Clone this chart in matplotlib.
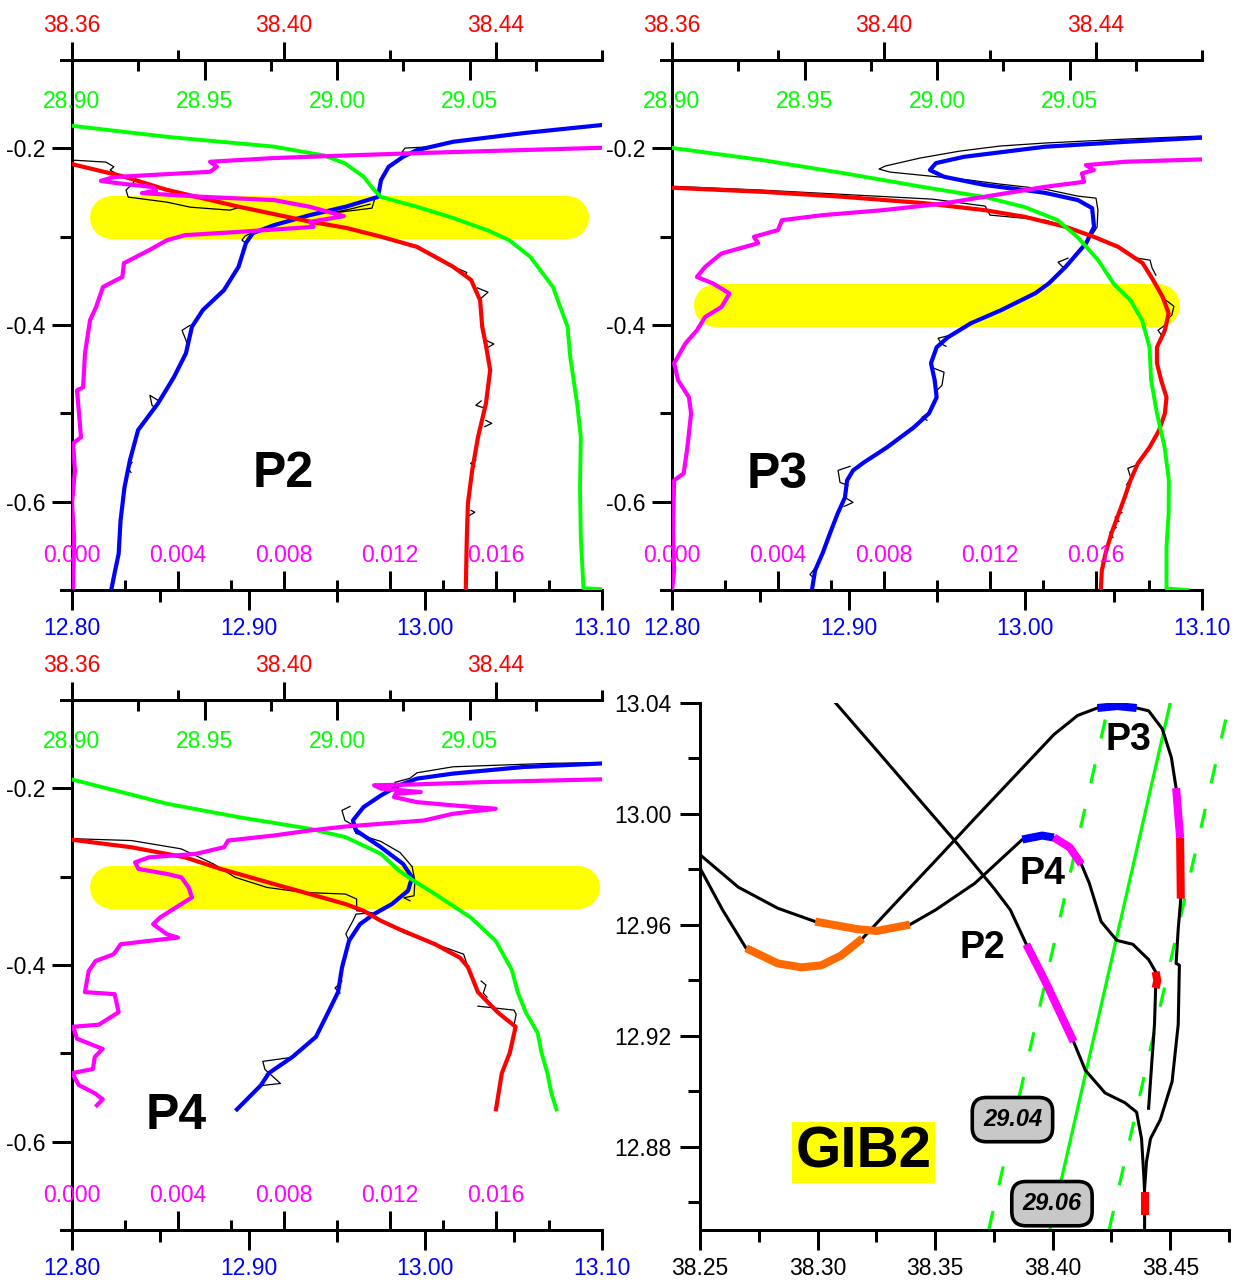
import matplotlib
matplotlib.use("Agg")
import matplotlib.pyplot as plt
from matplotlib.ticker import FixedLocator, FormatStrFormatter

plt.rcParams['font.family'] = ['Liberation Sans', 'DejaVu Sans']
plt.rcParams['axes.unicode_minus'] = False
plt.rcParams['lines.scale_dashes'] = False

W, H = 1235, 1282
PX = 0.72  # points per pixel at dpi 100

BLUE = '#0000ff'; RED = '#ff0000'; GREEN = '#00ff00'; MAGENTA = '#ff00ff'
YELLOW = '#ffff00'; ORANGE = '#ff6a00'

# ---------------- axis scales ----------------
T_LIM = (12.80, 13.10)
S_LIM = (38.36, 38.46)
SIG_LIM = (28.90, 29.10)
TURB_LIM = (0.0, 0.02)
Z_LIM = (-0.70, -0.10)

T_MAJOR = [12.80, 12.90, 13.00, 13.10]; T_MINOR = [12.85, 12.95, 13.05]
S_MAJOR = [38.36, 38.40, 38.44]; S_MINOR = [38.38, 38.42, 38.46]
SIG_MAJOR = [28.90, 28.95, 29.00, 29.05]; SIG_MINOR = [28.925, 28.975, 29.025, 29.075]
TURB_MAJOR = [0.000, 0.004, 0.008, 0.012, 0.016]; TURB_MINOR = [0.002, 0.006, 0.010, 0.014, 0.018]
Z_MAJOR = [-0.2, -0.4, -0.6]; Z_MINOR = [-0.3, -0.5]

TS_S_LIM = (38.25, 38.475)
TS_T_LIM = (12.85, 13.04)
TS_S_MAJOR = [38.25, 38.30, 38.35, 38.40, 38.45]
TS_S_MINOR = [38.275, 38.325, 38.375, 38.425, 38.475]
TS_T_MAJOR = [12.88, 12.92, 12.96, 13.00, 13.04]
TS_T_MINOR = [12.86, 12.90, 12.94, 12.98, 13.02]

# ---------------- P2 profile (value, depth) ----------------
p2_temp = [(13.0994, -0.1737), (13.0558, -0.1827), (13.0157, -0.1926), (12.9953, -0.2020),
           (12.9874, -0.2096), (12.9792, -0.2210), (12.9749, -0.2360), (12.9732, -0.2550),
           (12.9551, -0.2660), (12.9347, -0.2756), (12.9143, -0.2870), (12.9024, -0.2960),
           (12.8985, -0.3070), (12.8943, -0.3340), (12.8860, -0.3606), (12.8741, -0.3830),
           (12.8679, -0.4020), (12.8645, -0.4320), (12.8577, -0.4590), (12.8487, -0.4887),
           (12.8374, -0.5190), (12.8328, -0.5530), (12.8297, -0.5840), (12.8275, -0.6210),
           (12.8264, -0.6590), (12.8241, -0.6810), (12.8224, -0.6980)]
p2_sal = [(38.3601, -0.2180), (38.3698, -0.2320), (38.3779, -0.2470), (38.3914, -0.2660),
          (38.4049, -0.2830), (38.4117, -0.2900), (38.4183, -0.3000), (38.4251, -0.3116),
          (38.4319, -0.3340), (38.4353, -0.3490), (38.4370, -0.3720), (38.4374, -0.4020),
          (38.4381, -0.4230), (38.4389, -0.4510), (38.4381, -0.4890), (38.4366, -0.5270),
          (38.4355, -0.5650), (38.4347, -0.6020), (38.4345, -0.6400), (38.4343, -0.6980)]
p2_sig = [(28.9000, -0.1745), (28.9360, -0.1870), (28.9760, -0.1980), (28.9950, -0.2080),
          (29.0030, -0.2170), (29.0100, -0.2320), (29.0140, -0.2470), (29.0166, -0.2550),
          (29.0300, -0.2660), (29.0440, -0.2790), (29.0570, -0.2930), (29.0650, -0.3040),
          (29.0730, -0.3230), (29.0815, -0.3570), (29.0870, -0.4020), (29.0880, -0.4360),
          (29.0906, -0.4890), (29.0920, -0.5270), (29.0917, -0.5840), (29.0920, -0.6400),
          (29.0930, -0.6980), (29.1000, -0.6990)]
p2_turb = [(0.01996, -0.1994), (0.01302, -0.2054), (0.00966, -0.2088), (0.00762, -0.2110),
           (0.00521, -0.2152), (0.00547, -0.2209), (0.00521, -0.2266), (0.00358, -0.2292),
           (0.00157, -0.2326), (0.00109, -0.2368), (0.00170, -0.2394), (0.00306, -0.2439),
           (0.00317, -0.2481), (0.00264, -0.2507), (0.00494, -0.2549), (0.00762, -0.2586),
           (0.00898, -0.2662), (0.01026, -0.2768), (0.00898, -0.2832), (0.00912, -0.2889),
           (0.00629, -0.2946), (0.00426, -0.2983), (0.00358, -0.3040), (0.00291, -0.3153),
           (0.00196, -0.3300), (0.00190, -0.3456), (0.00117, -0.3569), (0.00091, -0.3796),
           (0.00068, -0.3946), (0.00049, -0.4320), (0.00042, -0.4705), (0.00019, -0.4740),
           (0.00034, -0.5270), (0.00004, -0.5340), (0.00011, -0.5646), (0.00000, -0.6020),
           (0.00008, -0.6400), (0.00004, -0.6970)]
p2_raw_temp = [
    [(12.9998, -0.1986), (12.9885, -0.1997), (12.9868, -0.2042), (12.9924, -0.2054)],
    [(12.9715, -0.2564), (12.9698, -0.2677), (12.9517, -0.2722), (12.9460, -0.2734),
     (12.9574, -0.2688), (12.9687, -0.2632)],
    [(12.9036, -0.2938), (12.8979, -0.2994), (12.8962, -0.3040), (12.8985, -0.3074)],
    [(12.8668, -0.4003), (12.8623, -0.4060), (12.8645, -0.4173), (12.8657, -0.4252)],
    [(12.8487, -0.4853), (12.8441, -0.4796), (12.8453, -0.4909), (12.8475, -0.4943)],
    [(12.8340, -0.5555), (12.8317, -0.5623), (12.8334, -0.5669)],
]
p2_raw_sal = [
    [(38.3600, -0.2133), (38.3664, -0.2156), (38.3679, -0.2209), (38.3672, -0.2246),
     (38.3698, -0.2337), (38.3719, -0.2360), (38.3715, -0.2394), (38.3702, -0.2473),
     (38.3706, -0.2552), (38.3779, -0.2609), (38.3823, -0.2666), (38.3898, -0.2700),
     (38.3917, -0.2666)],
    [(38.4315, -0.3330), (38.4345, -0.3405), (38.4340, -0.3450)],
    [(38.4365, -0.3580), (38.4385, -0.3629), (38.4372, -0.3697)],
    [(38.4381, -0.4173), (38.4396, -0.4215), (38.4385, -0.4252)],
    [(38.4372, -0.4860), (38.4362, -0.4909), (38.4380, -0.4943)],
    [(38.4381, -0.5080), (38.4392, -0.5113), (38.4379, -0.5150)],
    [(38.4362, -0.5530), (38.4352, -0.5567), (38.4360, -0.5600)],
    [(38.4353, -0.6099), (38.4360, -0.6120), (38.4350, -0.6156)],
]
p2_band = (12.8221, 13.0802, -0.2773)   # temperature span, depth centre

# ---------------- P3 profile ----------------
p3_temp = [(13.0995, -0.1880), (13.0570, -0.1926), (13.0111, -0.1982), (12.9653, -0.2096),
           (12.9494, -0.2167), (12.9460, -0.2246), (12.9540, -0.2322), (12.9772, -0.2416),
           (12.9998, -0.2473), (13.0111, -0.2504), (13.0298, -0.2586), (13.0378, -0.2677),
           (13.0389, -0.2889), (13.0344, -0.3074), (13.0228, -0.3342), (13.0134, -0.3527),
           (13.0057, -0.3640), (12.9862, -0.3833), (12.9692, -0.3980), (12.9562, -0.4139),
           (12.9498, -0.4252), (12.9466, -0.4433), (12.9487, -0.4626), (12.9498, -0.4819),
           (12.9455, -0.5000), (12.9369, -0.5159), (12.9217, -0.5385), (12.9087, -0.5555),
           (12.9025, -0.5646), (12.8991, -0.5759), (12.8979, -0.5952), (12.8938, -0.6133),
           (12.8894, -0.6360), (12.8852, -0.6586), (12.8810, -0.6779), (12.8792, -0.7000)]
p3_sal = [(38.3602, -0.2447), (38.3770, -0.2492), (38.3923, -0.2549), (38.4075, -0.2620),
          (38.4190, -0.2700), (38.4266, -0.2776), (38.4343, -0.2889), (38.4396, -0.3002),
          (38.4442, -0.3116), (38.4488, -0.3300), (38.4508, -0.3493), (38.4526, -0.3686),
          (38.4537, -0.3867), (38.4530, -0.4060), (38.4515, -0.4252), (38.4515, -0.4433),
          (38.4523, -0.4626), (38.4533, -0.4819), (38.4530, -0.5000), (38.4519, -0.5193),
          (38.4501, -0.5385), (38.4479, -0.5567), (38.4465, -0.5759), (38.4454, -0.5952),
          (38.4443, -0.6133), (38.4429, -0.6360), (38.4418, -0.6586), (38.4411, -0.6779),
          (38.4409, -0.7000)]
p3_sig = [(28.9004, -0.1997), (28.9340, -0.2133), (28.9645, -0.2280), (28.9950, -0.2439),
          (29.0181, -0.2552), (29.0332, -0.2666), (29.0455, -0.2813), (29.0531, -0.3006),
          (29.0608, -0.3266), (29.0668, -0.3538), (29.0730, -0.3720), (29.0774, -0.3946),
          (29.0802, -0.4252), (29.0808, -0.4626), (29.0830, -0.5000), (29.0859, -0.5385),
          (29.0875, -0.5759), (29.0874, -0.6133), (29.0866, -0.6518), (29.0866, -0.6983),
          (29.0945, -0.7000)]
p3_turb = [(0.02000, -0.2125), (0.01710, -0.2152), (0.01562, -0.2190), (0.01592, -0.2246),
           (0.01547, -0.2284), (0.01555, -0.2379), (0.01408, -0.2436), (0.01257, -0.2510),
           (0.01026, -0.2624), (0.00796, -0.2700), (0.00570, -0.2756), (0.00415, -0.2813),
           (0.00400, -0.2926), (0.00309, -0.3002), (0.00325, -0.3074), (0.00187, -0.3190),
           (0.00125, -0.3342), (0.00094, -0.3456), (0.00155, -0.3530), (0.00217, -0.3644),
           (0.00187, -0.3796), (0.00125, -0.3909), (0.00094, -0.4060), (0.00051, -0.4207),
           (0.00008, -0.4433), (0.00023, -0.4626), (0.00064, -0.4819), (0.00072, -0.5000),
           (0.00058, -0.5385), (0.00044, -0.5680), (0.00008, -0.5759), (0.00004, -0.6326),
           (0.00008, -0.6779), (0.00000, -0.7000)]
p3_raw_temp = [
    [(13.0995, -0.1861), (13.0570, -0.1895), (13.0111, -0.1940), (12.9857, -0.1974),
     (12.9630, -0.2031), (12.9404, -0.2110), (12.9206, -0.2201), (12.9172, -0.2235),
     (12.9234, -0.2269), (12.9460, -0.2314), (12.9687, -0.2360), (12.9857, -0.2405),
     (13.0111, -0.2462), (13.0298, -0.2541), (13.0400, -0.2564), (13.0411, -0.2700),
     (13.0406, -0.2892), (13.0377, -0.2983)],
    [(13.0241, -0.3244), (13.0185, -0.3289), (13.0207, -0.3334), (13.0230, -0.3357)],
    [(12.9574, -0.4116), (12.9506, -0.4150), (12.9528, -0.4218), (12.9551, -0.4241)],
    [(12.9483, -0.4490), (12.9540, -0.4535), (12.9528, -0.4683), (12.9500, -0.4739)],
    [(12.9455, -0.4989), (12.9415, -0.5045), (12.9443, -0.5079)],
    [(12.9008, -0.5600), (12.8940, -0.5646), (12.8951, -0.5782), (12.8996, -0.5816)],
    [(12.8979, -0.5952), (12.9025, -0.6008), (12.8974, -0.6054)],
    [(12.8809, -0.6756), (12.8781, -0.6824), (12.8804, -0.6870)],
]
p3_raw_sal = [
    [(38.3602, -0.2430), (38.3770, -0.2473), (38.4091, -0.2575), (38.4191, -0.2654),
     (38.4200, -0.2756), (38.4304, -0.2813), (38.4342, -0.2881)],
    [(38.4479, -0.3244), (38.4502, -0.3266), (38.4506, -0.3357), (38.4513, -0.3436)],
    [(38.4532, -0.3720), (38.4547, -0.3788), (38.4543, -0.3890), (38.4536, -0.3924)],
    [(38.4530, -0.4003), (38.4517, -0.4060), (38.4525, -0.4127)],
    [(38.4475, -0.5589), (38.4460, -0.5623), (38.4466, -0.5737), (38.4458, -0.5805)],
    [(38.4449, -0.6122), (38.4436, -0.6178), (38.4443, -0.6224)],
    [(38.4438, -0.6292), (38.4426, -0.6348), (38.4432, -0.6405)],
]
p3_band = (12.8243, 13.0751, -0.3776)

# ---------------- P4 profile ----------------
p4_temp = [(13.0994, -0.1719), (13.0558, -0.1758), (13.0157, -0.1833), (12.9953, -0.1890),
           (12.9851, -0.1966), (12.9749, -0.2080), (12.9650, -0.2213), (12.9590, -0.2364),
           (12.9608, -0.2477), (12.9749, -0.2667), (12.9874, -0.2856), (12.9925, -0.3008),
           (12.9902, -0.3159), (12.9811, -0.3310), (12.9709, -0.3424), (12.9630, -0.3538),
           (12.9568, -0.3727), (12.9528, -0.4031), (12.9506, -0.4307), (12.9449, -0.4540),
           (12.9381, -0.4813), (12.9248, -0.5041), (12.9114, -0.5224), (12.9070, -0.5360),
           (12.8934, -0.5634)]
p4_sal = [(38.3601, -0.2583), (38.3712, -0.2667), (38.3813, -0.2781), (38.3881, -0.2913),
          (38.3914, -0.2969), (38.3981, -0.3083), (38.4049, -0.3197), (38.4116, -0.3310),
          (38.4150, -0.3386), (38.4183, -0.3500), (38.4217, -0.3594), (38.4285, -0.3765),
          (38.4332, -0.3917), (38.4347, -0.4023), (38.4366, -0.4307), (38.4404, -0.4540),
          (38.4437, -0.4699), (38.4426, -0.4995), (38.4411, -0.5224), (38.4400, -0.5634)]
p4_sig = [(28.9002, -0.1901), (28.9358, -0.2174), (28.9629, -0.2326), (28.9898, -0.2458),
          (29.0033, -0.2553), (29.0166, -0.2742), (29.0234, -0.2932), (29.0289, -0.3045),
          (29.0370, -0.3197), (29.0505, -0.3463), (29.0599, -0.3727), (29.0660, -0.4057),
          (29.0682, -0.4307), (29.0712, -0.4534), (29.0757, -0.4767), (29.0772, -0.4995),
          (29.0794, -0.5224), (29.0809, -0.5452), (29.0828, -0.5634)]
p4_turb = [(0.01996, -0.1898), (0.01572, -0.1928), (0.01302, -0.1955), (0.01140, -0.1966),
           (0.01166, -0.2003), (0.01316, -0.2042), (0.01222, -0.2060), (0.01215, -0.2099),
           (0.01302, -0.2156), (0.01438, -0.2193), (0.01599, -0.2231), (0.01438, -0.2288),
           (0.01328, -0.2364), (0.01033, -0.2432), (0.00898, -0.2477), (0.00762, -0.2534),
           (0.00589, -0.2591), (0.00574, -0.2667), (0.00467, -0.2742), (0.00291, -0.2781),
           (0.00238, -0.2838), (0.00251, -0.2913), (0.00358, -0.2969), (0.00413, -0.3008),
           (0.00440, -0.3122), (0.00453, -0.3235), (0.00413, -0.3310), (0.00372, -0.3386),
           (0.00332, -0.3463), (0.00306, -0.3538), (0.00358, -0.3651), (0.00400, -0.3690),
           (0.00291, -0.3727), (0.00184, -0.3765), (0.00157, -0.3878), (0.00089, -0.3955),
           (0.00063, -0.4068), (0.00057, -0.4170), (0.00049, -0.4307), (0.00161, -0.4330),
           (0.00176, -0.4534), (0.00101, -0.4676), (0.00004, -0.4699), (0.00019, -0.4835),
           (0.00116, -0.4950), (0.00086, -0.5041), (0.00079, -0.5178), (0.00000, -0.5224),
           (0.00026, -0.5360), (0.00086, -0.5452), (0.00116, -0.5520), (0.00094, -0.5589)]
p4_raw_temp = [
    [(13.0994, -0.1710), (13.0723, -0.1716), (13.0157, -0.1756), (12.9953, -0.1824),
     (12.9913, -0.1886), (12.9828, -0.1932)],
    [(12.9574, -0.2205), (12.9528, -0.2250), (12.9545, -0.2364), (12.9585, -0.2409),
     (12.9608, -0.2511), (12.9749, -0.2602), (12.9857, -0.2727), (12.9925, -0.2886)],
    [(12.9925, -0.2886), (12.9941, -0.3045), (12.9936, -0.3216), (12.9879, -0.3239),
     (12.9913, -0.3273)],
    [(12.9698, -0.3409), (12.9608, -0.3424), (12.9590, -0.3500), (12.9550, -0.3648),
     (12.9568, -0.3727)],
    [(12.9528, -0.4182), (12.9489, -0.4261), (12.9517, -0.4318)],
    [(12.9245, -0.5045), (12.9080, -0.5091), (12.9092, -0.5182), (12.9180, -0.5341),
     (12.9075, -0.5364)],
]
p4_raw_sal = [
    [(38.3601, -0.2570), (38.3712, -0.2591), (38.3806, -0.2685), (38.3867, -0.2856),
     (38.3908, -0.3008), (38.3968, -0.3122), (38.4036, -0.3178), (38.4116, -0.3197),
     (38.4137, -0.3253), (38.4137, -0.3386), (38.4164, -0.3406)],
    [(38.4225, -0.3633), (38.4251, -0.3690), (38.4285, -0.3761), (38.4339, -0.3878),
     (38.4345, -0.3989)],
    [(38.4372, -0.4182), (38.4381, -0.4227), (38.4376, -0.4318), (38.4383, -0.4364)],
    [(38.4366, -0.4466), (38.4434, -0.4511), (38.4438, -0.4557), (38.4434, -0.4682)],
]
p4_band = (12.8218, 13.0864, -0.3122)

# ---------------- GIB2 T-S diagram (salinity, temperature) ----------------
ts_p2 = [(38.3077, 13.0400), (38.3250, 13.0231), (38.3418, 13.0066), (38.3586, 12.9901),
         (38.3753, 12.9729), (38.3820, 12.9654), (38.3888, 12.9530), (38.3971, 12.9392),
         (38.4089, 12.9179), (38.4139, 12.9076), (38.4223, 12.8994), (38.4307, 12.8959),
         (38.4357, 12.8925), (38.4378, 12.8829), (38.4388, 12.8691), (38.4391, 12.8636),
         (38.4391, 12.8554), (38.4391, 12.8499)]
ts_p2_marks = {MAGENTA: (6, 9), RED: (15, 17)}
ts_p4 = [(38.2500, 12.9853), (38.2663, 12.9736), (38.2831, 12.9660), (38.2990, 12.9612),
         (38.3166, 12.9585), (38.3250, 12.9578), (38.3393, 12.9601), (38.3502, 12.9654),
         (38.3669, 12.9750), (38.3871, 12.9908), (38.3955, 12.9922), (38.4005, 12.9915),
         (38.4072, 12.9880), (38.4122, 12.9819), (38.4156, 12.9750), (38.4206, 12.9612),
         (38.4273, 12.9544), (38.4341, 12.9530), (38.4408, 12.9475), (38.4438, 12.9431),
         (38.4445, 12.9399), (38.4438, 12.9372), (38.4433, 12.9241), (38.4416, 12.9035),
         (38.4408, 12.8939)]
ts_p4_marks = {ORANGE: (3, 7), BLUE: (9, 12), MAGENTA: (11, 14), RED: (19, 22)}
ts_p3 = [(38.2500, 12.9805), (38.2596, 12.9654), (38.2696, 12.9516), (38.2831, 12.9461),
         (38.2931, 12.9447), (38.3015, 12.9454), (38.3099, 12.9489), (38.3191, 12.9551),
         (38.3334, 12.9681), (38.3502, 12.9832), (38.3669, 12.9984), (38.3837, 13.0135),
         (38.4005, 13.0286), (38.4106, 13.0355), (38.4190, 13.0382), (38.4274, 13.0389),
         (38.4357, 13.0382), (38.4408, 13.0372), (38.4466, 13.0307), (38.4505, 13.0203),
         (38.4525, 13.0093), (38.4542, 12.9915), (38.4545, 12.9695), (38.4534, 12.9585),
         (38.4525, 12.9461), (38.4539, 12.9455), (38.4534, 12.9241), (38.4508, 12.9035),
         (38.4458, 12.8898), (38.4416, 12.8829), (38.4399, 12.8746), (38.4391, 12.8650)]
ts_p3_marks = {ORANGE: (2, 8), BLUE: (14, 17), MAGENTA: (20, 22), RED: (21, 23)}

iso_values = ['29.04', '29.06', '29.08']
iso_S_bottom = [38.3728, 38.3988, 38.4240]
iso_S_top = [38.4240, 38.4500, 38.4752]
iso_T_ends = [12.85, 13.04]
iso_styles = ['dashed', 'solid', 'dashed']
iso_label_pos = [(38.3829, 12.8898), (38.3997, 12.8595)]

# ---------------- figure ----------------
fig = plt.figure(figsize=(W / 100, H / 100), dpi=100)

TICK_W = 3 * PX
MAJ_L = 20 * PX
MIN_L = 12 * PX
LSIZE = 16.5


def rect(l, t, r, b):
    return [l / W, 1 - b / H, (r - l) / W, (b - t) / H]


def unzip(pairs):
    return [p[0] for p in pairs], [p[1] for p in pairs]


def set_xticks(ax, major, minor, fmt):
    ax.xaxis.set_major_locator(FixedLocator(major))
    ax.xaxis.set_minor_locator(FixedLocator(minor))
    ax.xaxis.set_major_formatter(FormatStrFormatter(fmt))


def profile(r, temp, sal, sig, turb, raw_t, raw_s, band, name, name_xy):
    axT = fig.add_axes(r)
    axT.set_xlim(*T_LIM)
    axT.set_ylim(*Z_LIM)
    axS = axT.twiny(); axS.set_xlim(*S_LIM)
    axG = axT.twiny(); axG.set_xlim(*SIG_LIM)
    axM = axT.twiny(); axM.set_xlim(*TURB_LIM)
    axM.xaxis.tick_bottom()

    for a in (axT, axS, axG, axM):
        for sp in a.spines.values():
            sp.set_visible(False)
            sp.set_linewidth(TICK_W)
    axT.spines['left'].set_visible(True)
    axT.spines['bottom'].set_visible(True)
    axS.spines['top'].set_visible(True)
    axT.spines['bottom'].set_bounds(T_LIM[0] - 0.006, T_LIM[1])
    axS.spines['top'].set_bounds(S_LIM[0] - 0.002, S_LIM[1])

    # temperature (bottom, outward)
    set_xticks(axT, T_MAJOR, T_MINOR, '%.2f')
    axT.tick_params(axis='x', which='both', direction='out', width=TICK_W,
                    labelsize=LSIZE, labelcolor=BLUE, pad=5, bottom=True, top=False)
    axT.tick_params(axis='x', which='major', length=MAJ_L)
    axT.tick_params(axis='x', which='minor', length=MIN_L)
    # depth
    axT.yaxis.set_major_locator(FixedLocator(Z_MAJOR))
    axT.yaxis.set_minor_locator(FixedLocator(Z_MINOR))
    axT.yaxis.set_major_formatter(FormatStrFormatter('%.1f'))
    axT.tick_params(axis='y', which='both', direction='out', width=TICK_W,
                    labelsize=LSIZE, labelcolor='black', pad=5, left=True, right=False)
    axT.tick_params(axis='y', which='major', length=MAJ_L)
    axT.tick_params(axis='y', which='minor', length=MIN_L)
    # salinity (top, outward)
    set_xticks(axS, S_MAJOR, S_MINOR, '%.2f')
    axS.tick_params(axis='x', which='both', direction='out', width=TICK_W,
                    labelsize=LSIZE, labelcolor=RED, pad=3.5)
    axS.tick_params(axis='x', which='major', length=18 * PX)
    axS.tick_params(axis='x', which='minor', length=10 * PX)
    # density (top, inward, labels inside)
    set_xticks(axG, SIG_MAJOR, SIG_MINOR, '%.2f')
    axG.tick_params(axis='x', which='both', direction='in', width=TICK_W,
                    labelsize=LSIZE, labelcolor=GREEN, pad=-38)
    axG.tick_params(axis='x', which='major', length=MAJ_L)
    axG.tick_params(axis='x', which='minor', length=11 * PX)
    # turbidity (bottom, inward, labels inside)
    set_xticks(axM, TURB_MAJOR, TURB_MINOR, '%.3f')
    axM.tick_params(axis='x', which='both', direction='in', width=TICK_W,
                    labelsize=LSIZE, labelcolor=MAGENTA, pad=-33,
                    bottom=True, top=False, labelbottom=True, labeltop=False)
    axM.tick_params(axis='x', which='major', length=19 * PX)
    axM.tick_params(axis='x', which='minor', length=10 * PX)

    # highlighted layer
    axT.plot([band[0], band[1]], [band[2], band[2]], color=YELLOW, lw=43 * PX,
             solid_capstyle='round', zorder=1)
    # raw (unsmoothed) traces
    t, z = unzip(temp)
    axT.plot(t, z, color='black', lw=0.9, zorder=2)
    for seg in raw_t:
        x, y = unzip(seg)
        axT.plot(x, y, color='black', lw=0.9, zorder=2)
    s, zs = unzip(sal)
    axS.plot(s, zs, color='black', lw=0.9, zorder=2)
    for seg in raw_s:
        x, y = unzip(seg)
        axS.plot(x, y, color='black', lw=0.9, zorder=2)
    # smoothed profiles
    axT.plot(t, z, color=BLUE, lw=3.0, zorder=3)
    axS.plot(s, zs, color=RED, lw=3.0, zorder=3)
    g, zg = unzip(sig)
    axG.plot(g, zg, color=GREEN, lw=2.8, zorder=3)
    m, zm = unzip(turb)
    axM.plot(m, zm, color=MAGENTA, lw=3.0, zorder=3)

    axM.text(name_xy[0], name_xy[1], name, transform=axM.transAxes, fontsize=36,
             fontweight='bold', ha='center', va='center', color='black')


profile(rect(72, 60, 602, 590), p2_temp, p2_sal, p2_sig, p2_turb, p2_raw_temp, p2_raw_sal,
        p2_band, 'P2', (0.398, 0.219))
profile(rect(672, 60, 1202, 590), p3_temp, p3_sal, p3_sig, p3_turb, p3_raw_temp, p3_raw_sal,
        p3_band, 'P3', (0.199, 0.217))
profile(rect(72, 700, 602, 1230), p4_temp, p4_sal, p4_sig, p4_turb, p4_raw_temp, p4_raw_sal,
        p4_band, 'P4', (0.196, 0.215))

# ---------------- GIB2 T-S panel ----------------
axg = fig.add_axes(rect(700, 703, 1229, 1230))
axg.set_xlim(*TS_S_LIM)
axg.set_ylim(*TS_T_LIM)
for k in ('top', 'right'):
    axg.spines[k].set_visible(False)
for k in ('left', 'bottom'):
    axg.spines[k].set_linewidth(TICK_W)
axg.xaxis.set_major_locator(FixedLocator(TS_S_MAJOR))
axg.xaxis.set_minor_locator(FixedLocator(TS_S_MINOR))
axg.xaxis.set_major_formatter(FormatStrFormatter('%.2f'))
axg.yaxis.set_major_locator(FixedLocator(TS_T_MAJOR))
axg.yaxis.set_minor_locator(FixedLocator(TS_T_MINOR))
axg.yaxis.set_major_formatter(FormatStrFormatter('%.2f'))
axg.tick_params(which='both', direction='out', width=TICK_W, labelsize=LSIZE)
axg.tick_params(axis='x', pad=5)
axg.tick_params(axis='y', pad=6)
axg.tick_params(which='major', length=MAJ_L)
axg.tick_params(which='minor', length=MIN_L)

for sb, st, ls in zip(iso_S_bottom, iso_S_top, iso_styles):
    if ls == 'dashed':
        axg.plot([sb, st], iso_T_ends, color=GREEN, lw=2.3, dashes=(14, 19), zorder=2)
    else:
        axg.plot([sb, st], iso_T_ends, color=GREEN, lw=2.3, zorder=2)

for curve, marks in ((ts_p2, ts_p2_marks), (ts_p4, ts_p4_marks), (ts_p3, ts_p3_marks)):
    s, t = unzip(curve)
    axg.plot(s, t, color='black', lw=2.2, zorder=3, solid_joinstyle='round')
    for col, (i0, i1) in marks.items():
        axg.plot(s[i0:i1], t[i0:i1], color=col, lw=5.8, zorder=4,
                 solid_capstyle='butt', solid_joinstyle='round')

for lab, (xs, yt) in zip(iso_values[:2], iso_label_pos):
    axg.text(xs, yt, lab, ha='center', va='center', fontsize=17, fontweight='bold',
             fontstyle='italic', zorder=6,
             bbox=dict(boxstyle='round,pad=0.45,rounding_size=0.6', fc='#c8c8c8',
                       ec='black', lw=2.6))

axg.text(38.4324, 13.0265, 'P3', fontsize=27, fontweight='bold', ha='center', va='center', zorder=6)
axg.text(38.3955, 12.9784, 'P4', fontsize=27, fontweight='bold', ha='center', va='center', zorder=6)
axg.text(38.3703, 12.9516, 'P2', fontsize=27, fontweight='bold', ha='center', va='center', zorder=6)
axg.text(38.3196, 12.8780, 'GIB2', fontsize=42, fontweight='bold', ha='center', va='center',
         zorder=6, bbox=dict(boxstyle='square,pad=0.06', fc=YELLOW, ec='none'))

fig.savefig('out.png', dpi=100)
